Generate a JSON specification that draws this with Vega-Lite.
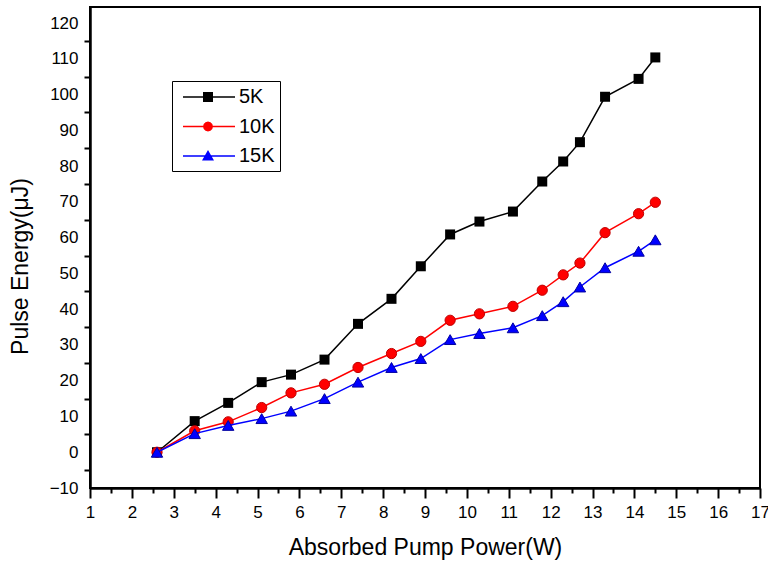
{
  "$schema": "https://vega.github.io/schema/vega-lite/v6.json",
  "width": 670,
  "height": 481,
  "autosize": "none",
  "padding": {"left": 90, "top": 7, "right": 8, "bottom": 76},
  "config": {
    "view": {"stroke": "black", "strokeWidth": 2},
    "font": "Liberation Sans",
    "axis": {
      "grid": false,
      "domainColor": "black",
      "domainWidth": 2.5,
      "tickColor": "black",
      "tickWidth": 2,
      "labelColor": "black",
      "labelFont": "Liberation Sans",
      "labelFontSize": 17,
      "titleFont": "Liberation Sans",
      "titleFontSize": 23,
      "titleFontWeight": "normal",
      "titleColor": "black"
    }
  },
  "data": {
    "values": [
      {"series": "5K", "power": 2.6, "energy": 0},
      {"series": "5K", "power": 3.5, "energy": 8.7},
      {"series": "5K", "power": 4.3, "energy": 13.8},
      {"series": "5K", "power": 5.1, "energy": 19.6},
      {"series": "5K", "power": 5.8, "energy": 21.7},
      {"series": "5K", "power": 6.6, "energy": 25.9},
      {"series": "5K", "power": 7.4, "energy": 35.9},
      {"series": "5K", "power": 8.2, "energy": 42.9},
      {"series": "5K", "power": 8.9, "energy": 52.0},
      {"series": "5K", "power": 9.6, "energy": 60.9},
      {"series": "5K", "power": 10.3, "energy": 64.5},
      {"series": "5K", "power": 11.1, "energy": 67.3},
      {"series": "5K", "power": 11.8, "energy": 75.7},
      {"series": "5K", "power": 12.3, "energy": 81.3},
      {"series": "5K", "power": 12.7, "energy": 86.7},
      {"series": "5K", "power": 13.3, "energy": 99.4},
      {"series": "5K", "power": 14.1, "energy": 104.4},
      {"series": "5K", "power": 14.5, "energy": 110.4},
      {"series": "10K", "power": 2.6, "energy": 0},
      {"series": "10K", "power": 3.5, "energy": 6.0},
      {"series": "10K", "power": 4.3, "energy": 8.5},
      {"series": "10K", "power": 5.1, "energy": 12.5},
      {"series": "10K", "power": 5.8, "energy": 16.6},
      {"series": "10K", "power": 6.6, "energy": 19.0},
      {"series": "10K", "power": 7.4, "energy": 23.7},
      {"series": "10K", "power": 8.2, "energy": 27.6},
      {"series": "10K", "power": 8.9, "energy": 31.0},
      {"series": "10K", "power": 9.6, "energy": 36.9},
      {"series": "10K", "power": 10.3, "energy": 38.7},
      {"series": "10K", "power": 11.1, "energy": 40.8},
      {"series": "10K", "power": 11.8, "energy": 45.3},
      {"series": "10K", "power": 12.3, "energy": 49.6},
      {"series": "10K", "power": 12.7, "energy": 52.9},
      {"series": "10K", "power": 13.3, "energy": 61.4},
      {"series": "10K", "power": 14.1, "energy": 66.7},
      {"series": "10K", "power": 14.5, "energy": 69.9},
      {"series": "15K", "power": 2.6, "energy": 0},
      {"series": "15K", "power": 3.5, "energy": 5.2},
      {"series": "15K", "power": 4.3, "energy": 7.5},
      {"series": "15K", "power": 5.1, "energy": 9.4},
      {"series": "15K", "power": 5.8, "energy": 11.5},
      {"series": "15K", "power": 6.6, "energy": 15.0},
      {"series": "15K", "power": 7.4, "energy": 19.6},
      {"series": "15K", "power": 8.2, "energy": 23.7},
      {"series": "15K", "power": 8.9, "energy": 26.2},
      {"series": "15K", "power": 9.6, "energy": 31.5},
      {"series": "15K", "power": 10.3, "energy": 33.2},
      {"series": "15K", "power": 11.1, "energy": 34.8},
      {"series": "15K", "power": 11.8, "energy": 38.2},
      {"series": "15K", "power": 12.3, "energy": 42.1},
      {"series": "15K", "power": 12.7, "energy": 46.2},
      {"series": "15K", "power": 13.3, "energy": 51.6},
      {"series": "15K", "power": 14.1, "energy": 56.2},
      {"series": "15K", "power": 14.5, "energy": 59.4}
    ]
  },
  "resolve": {
    "axis": {"x": "independent", "y": "independent"}
  },
  "layer": [
    {
      "transform": [{"filter": "datum.series === '5K'"}],
      "mark": {"type": "line", "strokeWidth": 1.5, "color": "#000000",
               "point": {"shape": "square", "filled": true, "size": 100, "color": "#000000"}},
      "encoding": {
        "x": {
          "field": "power", "type": "quantitative",
          "scale": {"domain": [1, 17], "nice": false, "zero": false},
          "axis": {
            "orient": "bottom",
            "values": [1, 2, 3, 4, 5, 6, 7, 8, 9, 10, 11, 12, 13, 14, 15, 16, 17],
            "tickSize": 10, "labelPadding": 6, "labelFlush": false,
            "title": "Absorbed Pump Power(W)",
            "titleY": 59, "titleBaseline": "middle"
          }
        },
        "y": {
          "field": "energy", "type": "quantitative",
          "scale": {"domain": [-10, 124.5], "nice": false, "zero": false},
          "axis": {
            "orient": "left",
            "values": [-10, 0, 10, 20, 30, 40, 50, 60, 70, 80, 90, 100, 110, 120],
            "ticks": false, "tickSize": 0, "labelPadding": 12, "labelFlush": false,
            "title": "Pulse Energy(μJ)",
            "titleX": -70, "titleY": 259, "titleAngle": -90,
            "titleAlign": "center", "titleBaseline": "middle"
          }
        }
      }
    },
    {
      "transform": [{"filter": "datum.series === '10K'"}],
      "mark": {"type": "line", "strokeWidth": 1.5, "color": "#ff0000",
               "point": {"shape": "circle", "filled": true, "size": 105, "fill": "#ff0000", "stroke": "#c00000", "strokeWidth": 1}},
      "encoding": {
        "x": {"field": "power", "type": "quantitative", "axis": null},
        "y": {"field": "energy", "type": "quantitative", "axis": null}
      }
    },
    {
      "transform": [{"filter": "datum.series === '15K'"}],
      "mark": {"type": "line", "strokeWidth": 1.5, "color": "#0000ff",
               "point": {"shape": "triangle-up", "filled": true, "size": 130, "fill": "#0000ff", "stroke": "#0000a0", "strokeWidth": 1}},
      "encoding": {
        "x": {"field": "power", "type": "quantitative", "axis": null},
        "y": {"field": "energy", "type": "quantitative", "axis": null}
      }
    },
    {
      "mark": {"type": "point", "filled": true, "opacity": 0},
      "encoding": {
        "x": {
          "field": "power", "type": "quantitative",
          "axis": {
            "orient": "bottom",
            "values": [1.5, 2.5, 3.5, 4.5, 5.5, 6.5, 7.5, 8.5, 9.5, 10.5, 11.5, 12.5, 13.5, 14.5, 15.5, 16.5],
            "tickSize": 5, "labels": false, "domain": false, "title": null
          }
        },
        "y": {
          "field": "energy", "type": "quantitative",
          "axis": {
            "orient": "left",
            "values": [-5, 5, 15, 25, 35, 45, 55, 65, 75, 85, 95, 105, 115],
            "tickSize": 6, "labels": false, "domain": false, "title": null
          }
        },
        "color": {
          "field": "series", "type": "nominal",
          "scale": {"domain": ["5K", "10K", "15K"], "range": ["#000000", "#ff0000", "#0000ff"]},
          "legend": {
            "title": null, "orient": "none", "legendX": 82, "legendY": 74,
            "padding": 5, "strokeColor": "black", "symbolSize": 400,
            "symbolOpacity": 1, "labelOffset": 40,
            "labelFont": "Liberation Sans", "labelFontSize": 20, "labelColor": "black",
            "rowPadding": 8.5
          }
        },
        "shape": {
          "field": "series", "type": "nominal",
          "scale": {
            "domain": ["5K", "10K", "15K"],
            "range": [
              "M-0.5,-0.075L4.7,-0.075L4.7,0.075L-0.5,0.075Z M1.5,-0.5L2.5,-0.5L2.5,0.5L1.5,0.5Z",
              "M-0.5,-0.075L4.7,-0.075L4.7,0.075L-0.5,0.075Z M2.5,0L2.43,0.25L2.25,0.43L2,0.5L1.75,0.43L1.57,0.25L1.5,0L1.57,-0.25L1.75,-0.43L2,-0.5L2.25,-0.43L2.43,-0.25Z",
              "M-0.5,-0.075L4.7,-0.075L4.7,0.075L-0.5,0.075Z M2,-0.6L2.6,0.45L1.4,0.45Z"
            ]
          },
          "legend": {
            "title": null, "orient": "none", "legendX": 82, "legendY": 74,
            "padding": 5, "strokeColor": "black", "symbolSize": 400,
            "symbolOpacity": 1, "labelOffset": 40,
            "labelFont": "Liberation Sans", "labelFontSize": 20, "labelColor": "black",
            "rowPadding": 8.5
          }
        }
      }
    }
  ]
}
